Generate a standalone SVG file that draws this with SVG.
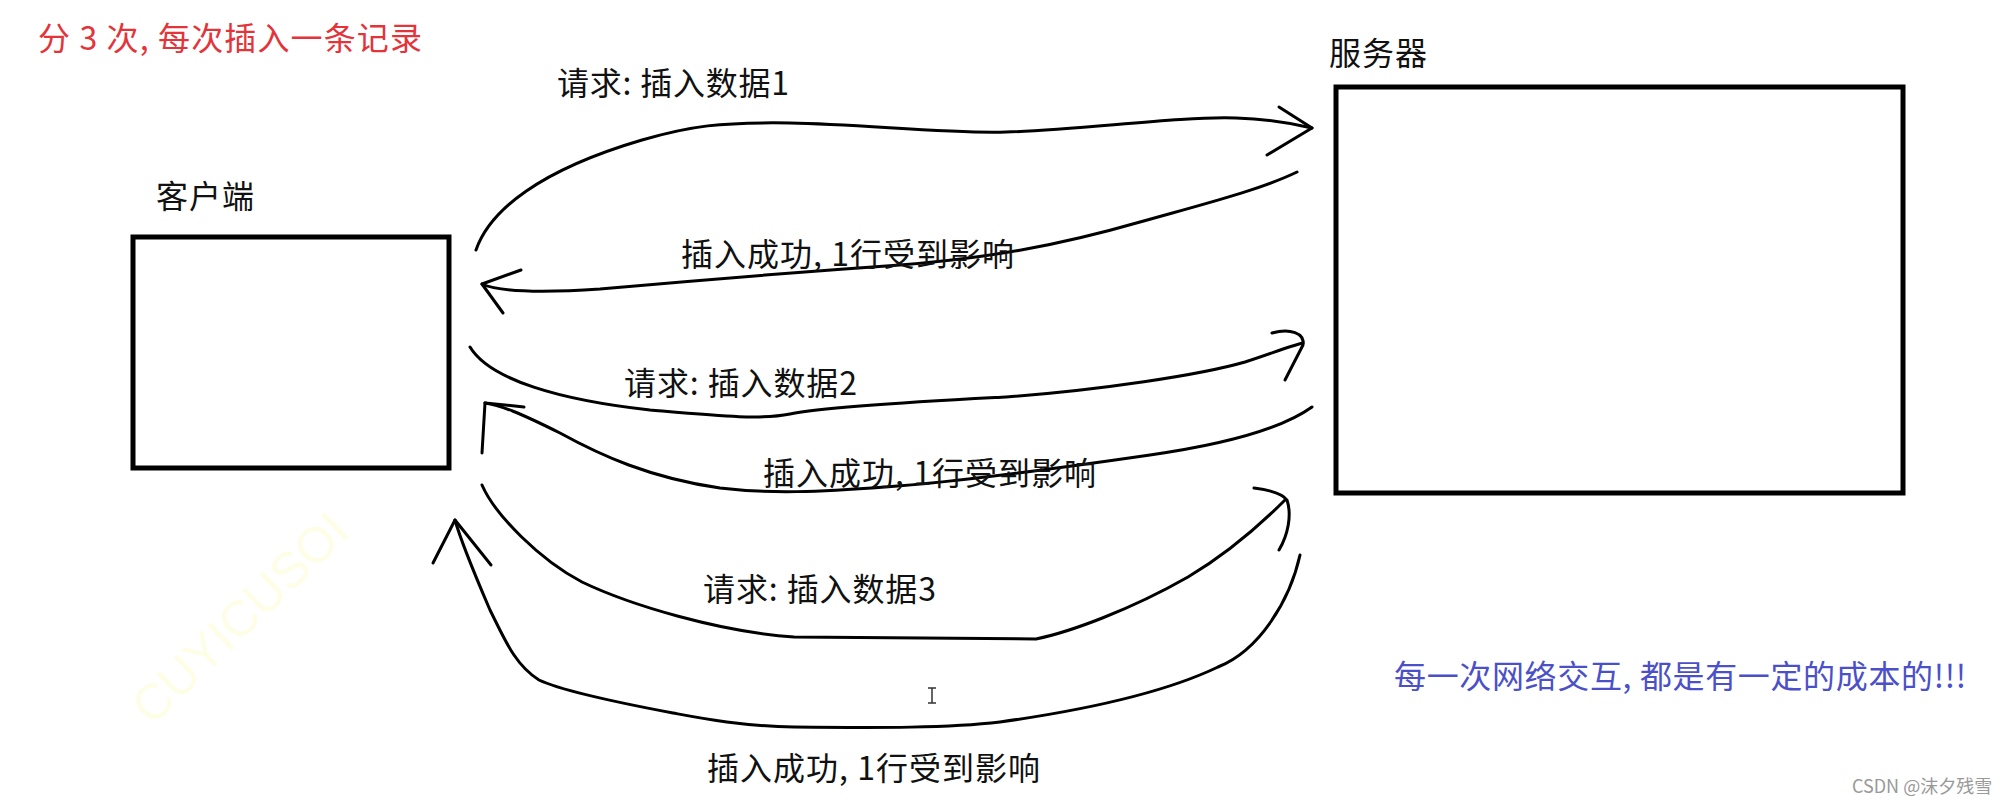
<svg xmlns="http://www.w3.org/2000/svg" width="2001" height="805" viewBox="0 0 2001 805">
<style>
  text { font-family: "Noto Sans CJK SC", "Liberation Sans", sans-serif; }
  .lbl { font-size: 32px; fill: #111; }
  .box { fill: #fff; stroke: #000; stroke-width: 5; }
  .wire { fill: none; stroke: #000; stroke-width: 3; stroke-linecap: round; stroke-linejoin: round; }
</style>
<rect width="2001" height="805" fill="#fff"/>

<text x="240" y="618" transform="rotate(-44 240 618)" text-anchor="middle" dominant-baseline="central" style="font-family:'Liberation Sans',sans-serif;font-size:50px;fill:#fefee6">CUYICUSOI</text>

<text id="title" x="38" y="50" textLength="384" style="font-size:32px;fill:#e3343a">分 3 次, 每次插入一条记录</text>

<g id="client">
  <text class="lbl" x="156" y="208" textLength="98">客户端</text>
  <rect class="box" x="133" y="237" width="316" height="231"/>
</g>

<g id="server">
  <text class="lbl" x="1329" y="65" textLength="98">服务器</text>
  <rect class="box" x="1336" y="87" width="567" height="406"/>
</g>

<g id="connectors">
  <path class="wire" d="M476,250 C490,210 540,170 642,140 C690,126 720,122 790,123 C860,124 950,134 1006,132 C1080,130 1180,116 1236,118 C1270,119 1295,124 1312,128"/>
  <path class="wire" d="M1279,107 L1312,128 L1267,155"/>

  <path class="wire" d="M1297,172 C1260,190 1200,205 1140,222 C1060,245 990,258 900,265 C800,272 700,280 600,289 C540,293 500,292 482,284"/>
  <path class="wire" d="M521,270 L482,284 L503,313"/>

  <path class="wire" d="M470,347 C490,380 560,400 650,410 C720,416 760,420 790,414 C830,406 950,400 1006,397 C1100,390 1200,375 1245,362 C1270,354 1290,346 1303,343"/>
  <path class="wire" d="M1272,333 C1290,328 1305,333 1303,345 L1285,380"/>

  <path class="wire" d="M1312,407 C1280,430 1220,445 1150,455 C1060,468 960,482 885,487 C820,492 770,494 720,488 C650,478 600,455 560,433 C520,413 500,405 485,403"/>
  <path class="wire" d="M524,407 L485,403 L482,453"/>

  <path class="wire" d="M482,485 C495,515 540,560 582,582 C630,605 720,632 794,637 L1036,639 C1070,632 1130,610 1188,577 C1230,552 1265,520 1285,500"/>
  <path class="wire" d="M1254,488 C1270,490 1282,493 1287,500 C1292,515 1288,535 1279,550"/>

  <path class="wire" d="M1300,555 C1290,600 1260,650 1218,667 C1170,690 1100,708 1000,722 C950,728 880,728 794,727 C740,726 700,718 673,713 C620,703 560,690 539,680 C515,665 505,640 490,610 C475,575 462,545 455,520"/>
  <path class="wire" d="M433,563 L455,520 L491,565"/>
</g>

<g id="labels">
  <text class="lbl" x="557" y="95" textLength="232">请求: 插入数据1</text>
  <text class="lbl" x="681" y="266" textLength="333">插入成功, 1行受到影响</text>
  <text class="lbl" x="624" y="395" textLength="233">请求: 插入数据2</text>
  <text class="lbl" x="763" y="485" textLength="333">插入成功, 1行受到影响</text>
  <text class="lbl" x="703" y="601" textLength="233">请求: 插入数据3</text>
  <text class="lbl" x="707" y="780" textLength="333">插入成功, 1行受到影响</text>
</g>

<path d="M928,688 H936 M932,688 V703 M928,703 H936" fill="none" stroke="#333" stroke-width="1.5"/>

<text id="note" x="1394" y="688" textLength="572" style="font-size:32px;fill:#4b50c8">每一次网络交互, 都是有一定的成本的!!!</text>
<text id="credit" x="1852" y="793" style="font-size:18px;fill:#999">CSDN @沫夕残雪</text>
</svg>
